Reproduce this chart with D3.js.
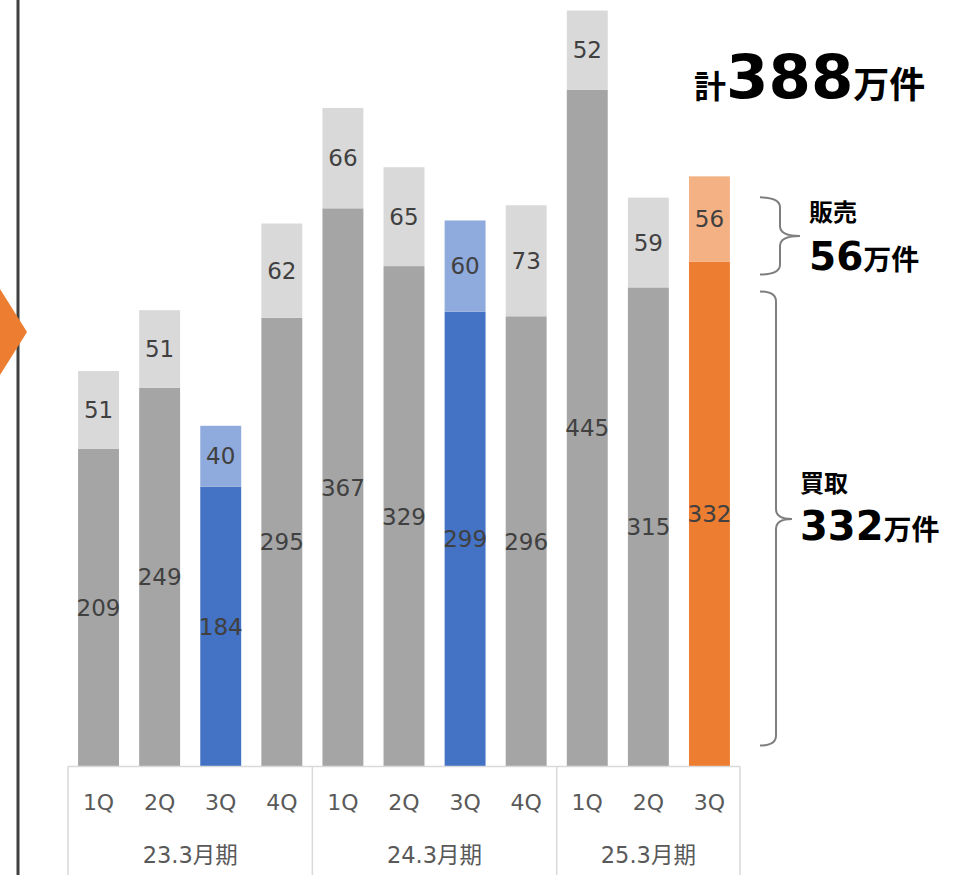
<!DOCTYPE html>
<html><head><meta charset="utf-8">
<script src="https://cdn.jsdelivr.net/npm/d3@7"></script>
<style>body{margin:0;background:#fff;}svg{display:block;}</style>
</head><body>
<script>
const quarters = ["1Q","2Q","3Q","4Q","1Q","2Q","3Q","4Q","1Q","2Q","3Q"];
const years = ["23.3月期","24.3月期","25.3月期"];
const yearSpans = [4,4,3];
const buyValues = [209,249,184,295,367,329,299,296,445,315,332];
const sellValues = [51,51,40,62,66,65,60,73,52,59,56];
const kinds = ["g","g","b","g","g","g","b","g","g","g","o"];
const bottomColors = {g:"#a5a5a5", b:"#4472c4", o:"#ed7d31"};
const topColors = {g:"#d9d9d9", b:"#8faadc", o:"#f4b183"};

const W = 959, H = 875;
const svg = d3.select("body").append("svg").attr("width", W).attr("height", H);

const x = d3.scaleBand().domain(d3.range(quarters.length)).range([68, 740]).paddingInner(0.33).paddingOuter(0.165);
const y = d3.scaleLinear().domain([0, 500]).range([766.5, 6]);

const labelFont = "'DejaVu Sans', 'Noto Sans CJK JP', sans-serif";

// left vertical line
svg.append("line").attr("x1", 18).attr("x2", 18).attr("y1", 0).attr("y2", H).attr("stroke", "#404040").attr("stroke-width", 3);
// orange arrow tip
svg.append("path").attr("d", "M0,289 L27,332 L0,375 Z").attr("fill", "#ed7d31");

// bars
const g = svg.append("g");
quarters.forEach((q, i) => {
  const b = buyValues[i], s = sellValues[i];
  g.append("rect").attr("x", x(i)).attr("width", x.bandwidth())
    .attr("y", y(b)).attr("height", y(0) - y(b)).attr("fill", bottomColors[kinds[i]]);
  g.append("rect").attr("x", x(i)).attr("width", x.bandwidth())
    .attr("y", y(b + s)).attr("height", y(b) - y(b + s)).attr("fill", topColors[kinds[i]]);
  g.append("text").attr("x", x(i) + x.bandwidth()/2).attr("y", y(b/2)).attr("dy", "0.36em")
    .attr("text-anchor", "middle").attr("font-family", labelFont).attr("font-size", 23).attr("fill", "#404040").text(b);
  g.append("text").attr("x", x(i) + x.bandwidth()/2).attr("y", y(b + s/2)).attr("dy", "0.36em")
    .attr("text-anchor", "middle").attr("font-family", labelFont).attr("font-size", 23).attr("fill", "#404040").text(s);
});

// axis
const axisY = y(0);
svg.append("line").attr("x1", 68).attr("x2", 740).attr("y1", axisY).attr("y2", axisY).attr("stroke", "#d9d9d9").attr("stroke-width", 1.5);
let start = 0;
const sepX = [68];
yearSpans.forEach(n => { start += n; const idx = start - 1; sepX.push(start === quarters.length ? 740 : x(idx) + x.bandwidth() + x.step()*x.paddingInner()/2); });
sepX.forEach(sx => svg.append("line").attr("x1", sx).attr("x2", sx).attr("y1", axisY).attr("y2", H).attr("stroke", "#d9d9d9").attr("stroke-width", 1.5));
quarters.forEach((q, i) => {
  svg.append("text").attr("x", x(i) + x.bandwidth()/2).attr("y", 802).attr("dy", "0.36em")
    .attr("text-anchor", "middle").attr("font-family", labelFont).attr("font-size", 22).attr("fill", "#595959").text(q);
});
years.forEach((yr, k) => {
  svg.append("text").attr("x", (sepX[k] + sepX[k+1]) / 2).attr("y", 855).attr("dy", "0.36em")
    .attr("text-anchor", "middle").attr("font-family", labelFont).attr("font-size", 22.5).attr("fill", "#595959").text(yr);
});

// braces
function brace(xl, xv, xt, y0, y1, ym) {
  const r = 10;
  return `M${xl},${y0} Q${xv},${y0} ${xv},${y0 + r} L${xv},${ym - r} Q${xv},${ym} ${xt},${ym} Q${xv},${ym} ${xv},${ym + r} L${xv},${y1 - r} Q${xv},${y1} ${xl},${y1}`;
}
const totS = buyValues[10] + sellValues[10];
svg.append("path").attr("d", brace(760, 780, 800, y(totS) + 21, y(buyValues[10]) + 13, (y(totS) + y(buyValues[10])) / 2 + 17))
  .attr("fill", "none").attr("stroke", "#7f7f7f").attr("stroke-width", 2);
svg.append("path").attr("d", brace(760, 776, 792, y(buyValues[10]) + 30, y(0) - 21, 519))
  .attr("fill", "none").attr("stroke", "#7f7f7f").attr("stroke-width", 2);

const boldFont = "'DejaVu Sans', 'Noto Sans CJK JP', sans-serif";
// total
const t = svg.append("text").attr("x", 694).attr("y", 98).attr("font-family", boldFont).attr("font-weight", "bold").attr("fill", "#000");
t.append("tspan").attr("font-size", 32).text("計");
t.append("tspan").attr("font-size", 61).text(buyValues[10] + sellValues[10]);
t.append("tspan").attr("font-size", 36).text("万件");

svg.append("text").attr("x", 809).attr("y", 221).attr("font-family", boldFont).attr("font-weight", "bold").attr("font-size", 24).text("販売");
const s1 = svg.append("text").attr("x", 809).attr("y", 270).attr("font-family", boldFont).attr("font-weight", "bold");
s1.append("tspan").attr("font-size", 39).text(sellValues[10]);
s1.append("tspan").attr("font-size", 28).text("万件");

svg.append("text").attr("x", 800).attr("y", 492).attr("font-family", boldFont).attr("font-weight", "bold").attr("font-size", 24).text("買取");
const s2 = svg.append("text").attr("x", 800).attr("y", 540).attr("font-family", boldFont).attr("font-weight", "bold");
s2.append("tspan").attr("font-size", 40).text(buyValues[10]);
s2.append("tspan").attr("font-size", 28).text("万件");
</script>
</body></html>
